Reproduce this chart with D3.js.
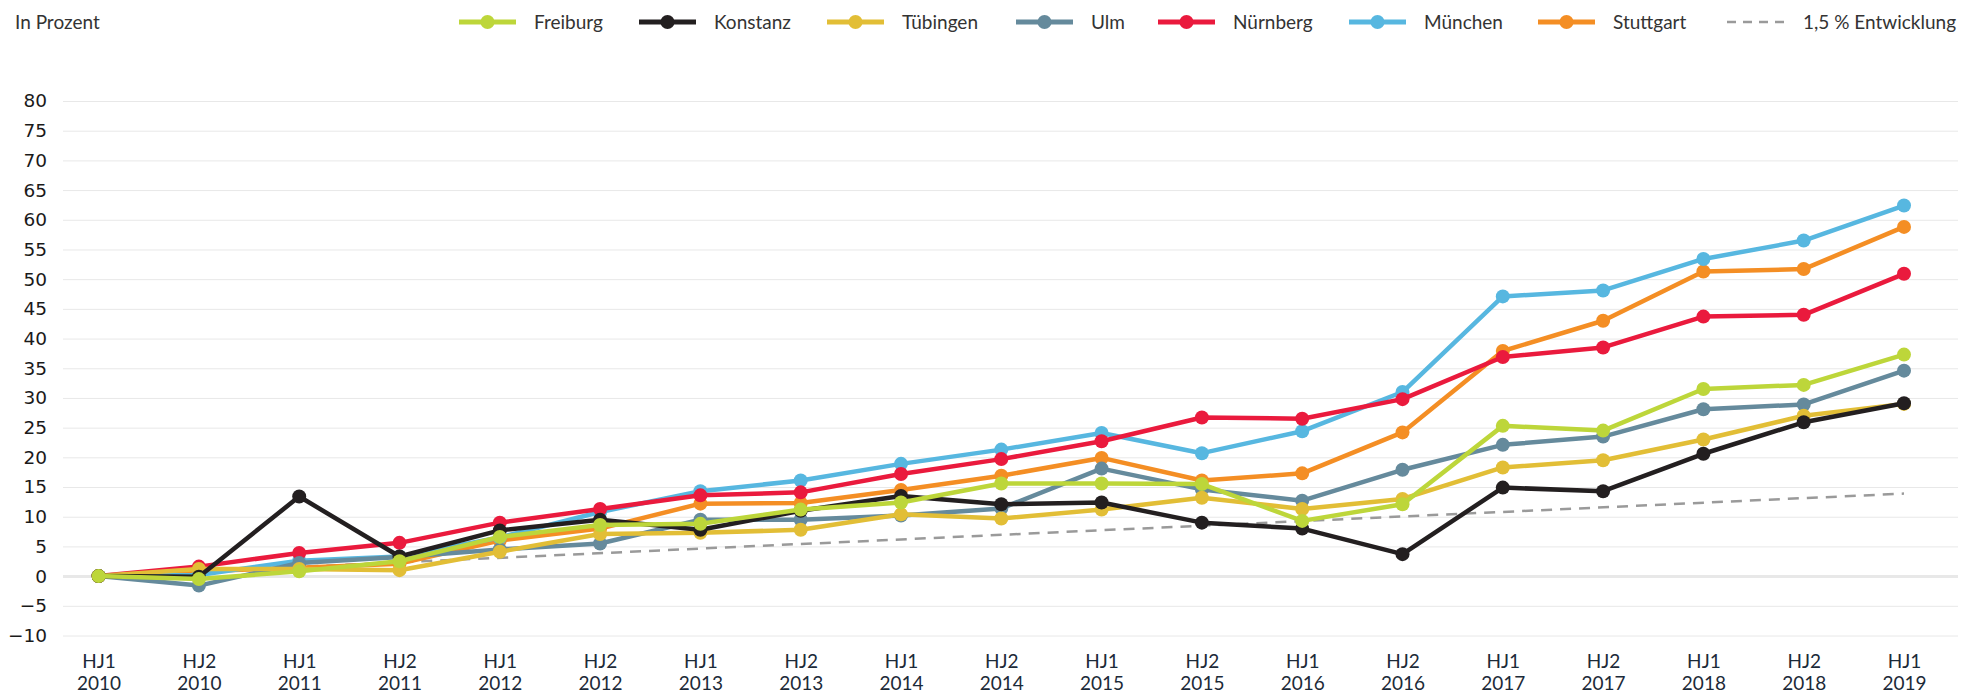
<!DOCTYPE html>
<html lang="de">
<head>
	<meta charset="utf-8">
	<title>Entwicklung in Prozent</title>
	<script src="https://cdn.jsdelivr.net/npm/d3@7/dist/d3.min.js"></script>
	<style>
		body { margin: 0; background: #fff; }
		svg { display: block; }
		.tick line { stroke: #e8e8e8; }
		.domain { display: none; }
	</style>
</head>
<body>
<script>
// categories (half years)
var categories = ["HJ1 2010","HJ2 2010","HJ1 2011","HJ2 2011","HJ1 2012","HJ2 2012","HJ1 2013","HJ2 2013",
	"HJ1 2014","HJ2 2014","HJ1 2015","HJ2 2015","HJ1 2016","HJ2 2016","HJ1 2017","HJ2 2017","HJ1 2018","HJ2 2018","HJ1 2019"];

var freiburg  = [0, -0.5, 0.8, 2.5, 6.6, 8.6, 8.8, 11.2, 12.4, 15.6, 15.6, 15.5, 9.3, 12.1, 25.3, 24.5, 31.5, 32.2, 37.3];
var konstanz  = [0, -0.1, 13.4, 3.3, 7.7, 9.5, 7.8, 11.0, 13.5, 12.1, 12.4, 9.0, 8.0, 3.7, 14.9, 14.3, 20.6, 25.9, 29.1];
var tuebingen = [0, 1.2, 1.2, 1.0, 4.1, 7.1, 7.3, 7.8, 10.4, 9.7, 11.2, 13.2, 11.3, 13.0, 18.3, 19.5, 23.0, 27.0, 29.0];
var ulm       = [0, -1.6, 2.2, 3.2, 4.5, 5.5, 9.5, 9.5, 10.2, 11.4, 18.1, 14.6, 12.7, 17.9, 22.1, 23.5, 28.1, 28.9, 34.6];
var nuernberg = [0, 1.6, 3.9, 5.6, 9.0, 11.3, 13.6, 14.1, 17.2, 19.7, 22.7, 26.7, 26.5, 29.8, 36.9, 38.5, 43.7, 44.0, 50.9];
var muenchen  = [0, 0.2, 2.6, 3.3, 6.5, 10.8, 14.3, 16.1, 18.9, 21.3, 24.1, 20.7, 24.4, 31.0, 47.1, 48.1, 53.4, 56.5, 62.4];
var stuttgart = [0, 0.8, 1.4, 2.1, 6.0, 8.0, 12.2, 12.3, 14.5, 16.9, 19.9, 16.1, 17.3, 24.2, 37.9, 43.0, 51.3, 51.7, 58.8];

// 1,5 % Entwicklung (straight dashed line, start and end)
var trendCats = ["HJ1 2010", "HJ1 2019"];
var trendValues = [0, 13.9];

var yTicks = [-10, -5, 0, 5, 10, 15, 20, 25, 30, 35, 40, 45, 50, 55, 60, 65, 70, 75, 80];

var seriesNames  = ["Freiburg", "Konstanz", "Tübingen", "Ulm", "Nürnberg", "München", "Stuttgart"];
var seriesValues = [freiburg, konstanz, tuebingen, ulm, nuernberg, muenchen, stuttgart];
var seriesColors = ["#bdd63a", "#231f20", "#e2be36", "#658a9c", "#ea1a3d", "#57b7e0", "#f48e24"];

var width = 1982, height = 694;
var gridLeft = 63, gridRight = 1958;

var svg = d3.select("body").append("svg")
	.attr("width", width)
	.attr("height", height);

var xScale = d3.scalePoint()
	.domain(categories)
	.range([98.6, 1904]);

var yScale = d3.scaleLinear()
	.domain([-10, 80])
	.range([635.5, 101]);

// y axis with grid
var yAxis = d3.axisLeft(yScale)
	.tickValues(yTicks)
	.tickSize(-(gridRight - gridLeft))
	.tickPadding(16);

var gy = svg.append("g")
	.attr("transform", "translate(" + gridLeft + ",0)")
	.call(yAxis);
gy.selectAll("text")
	.style("font-family", "'DejaVu Sans', sans-serif")
	.style("font-size", "18.5px")
	.style("fill", "#1a1a1a");
gy.selectAll(".tick line")
	.attr("stroke", function(d){ return d === 0 ? "#e2e2e2" : "#e8e8e8"; })
	.attr("stroke-width", function(d){ return d === 0 ? 3 : 1; });

// x axis (two line labels)
var xAxis = d3.axisBottom(xScale).tickSize(0).tickFormat("");
var gx = svg.append("g")
	.attr("transform", "translate(0,648)")
	.call(xAxis);
gx.selectAll(".tick").each(function(d){
	var parts = d.split(" ");
	var t = d3.select(this).append("text")
		.attr("text-anchor", "middle")
		.style("font-family", "Lato, sans-serif")
		.style("font-size", "19px")
		.style("fill", "#1c2a38");
	t.append("tspan").attr("x", 0).attr("y", 20).text(parts[0]);
	t.append("tspan").attr("x", 0).attr("y", 42).text(parts[1]);
});

// trend line
var trendData = trendCats.map(function(c, i){ return {c: c, v: trendValues[i]}; });
svg.append("path")
	.datum(trendData)
	.attr("fill", "none")
	.attr("stroke", "#9a9a9a")
	.attr("stroke-width", 2.5)
	.attr("stroke-dasharray", "11,8")
	.attr("d", d3.line().x(function(d){ return xScale(d.c); }).y(function(d){ return yScale(d.v); }));

// series, drawn in reverse so Freiburg lies on top
var line = d3.line()
	.x(function(d){ return xScale(d.c); })
	.y(function(d){ return yScale(d.v); });

for (var s = seriesNames.length - 1; s >= 0; s--) {
	var pts = categories.map(function(c, i){ return {c: c, v: seriesValues[s][i]}; });
	var g = svg.append("g");
	g.append("path")
		.datum(pts)
		.attr("fill", "none")
		.attr("stroke", seriesColors[s])
		.attr("stroke-width", 4.5)
		.attr("stroke-linejoin", "round")
		.attr("d", line);
	g.selectAll("circle")
		.data(pts)
		.enter().append("circle")
		.attr("cx", function(d){ return xScale(d.c); })
		.attr("cy", function(d){ return yScale(d.v); })
		.attr("r", 7)
		.attr("fill", seriesColors[s]);
}

// title
svg.append("text")
	.attr("x", 15)
	.attr("y", 29)
	.style("font-family", "Lato, sans-serif")
	.style("font-size", "19px")
	.style("fill", "#333")
	.text("In Prozent");

// legend
var legendX = [459, 639, 827, 1016, 1158, 1349, 1538];
var legendY = 22;
var legend = svg.append("g");
seriesNames.forEach(function(name, i){
	var lg = legend.append("g").attr("transform", "translate(" + legendX[i] + "," + legendY + ")");
	lg.append("line").attr("x1", 0).attr("x2", 57).attr("y1", 0).attr("y2", 0)
		.attr("stroke", seriesColors[i]).attr("stroke-width", 5);
	lg.append("circle").attr("cx", 28.5).attr("cy", 0).attr("r", 7).attr("fill", seriesColors[i]);
	lg.append("text").attr("x", 75).attr("y", 7)
		.style("font-family", "Lato, sans-serif")
		.style("font-size", "19px")
		.style("fill", "#333")
		.text(name);
});
var tl = legend.append("g").attr("transform", "translate(1727," + legendY + ")");
tl.append("line").attr("x1", 0).attr("x2", 57).attr("y1", 0).attr("y2", 0)
	.attr("stroke", "#9a9a9a").attr("stroke-width", 2.5).attr("stroke-dasharray", "9,7");
tl.append("text").attr("x", 76).attr("y", 7)
	.style("font-family", "Lato, sans-serif")
	.style("font-size", "19px")
	.style("fill", "#333")
	.text("1,5 % Entwicklung");
</script>
</body>
</html>
